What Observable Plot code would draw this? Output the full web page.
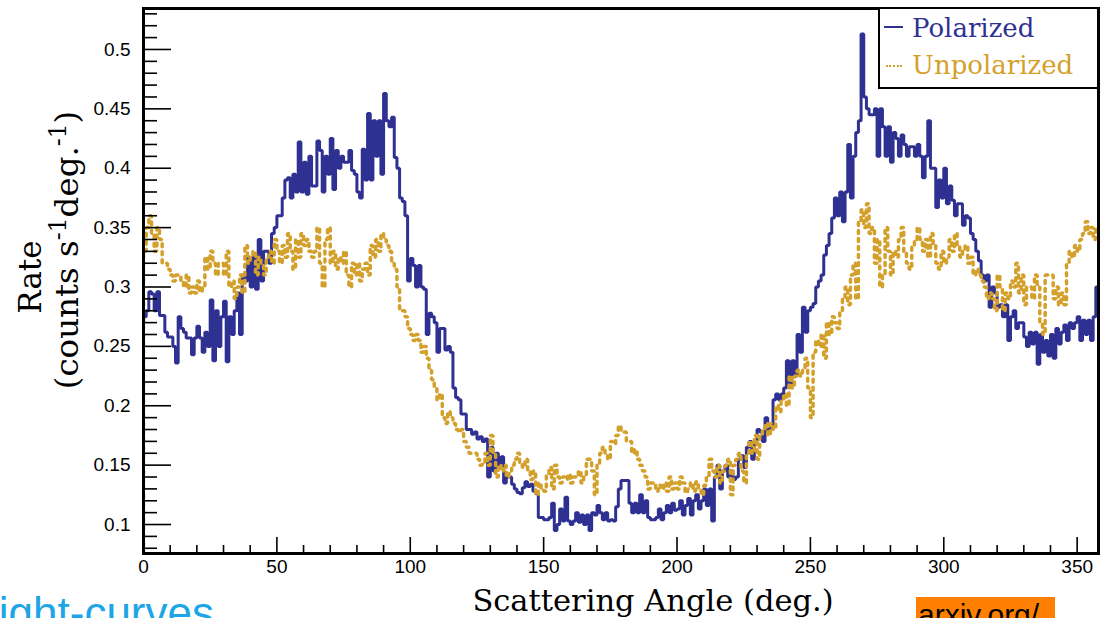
<!DOCTYPE html>
<html><head><meta charset="utf-8">
<script src="https://cdn.jsdelivr.net/npm/d3@7"></script>
<script src="https://cdn.jsdelivr.net/npm/@observablehq/plot@0.6"></script>
<style>
body{margin:0;background:#fff}
#wrap{position:relative;width:1105px;height:618px;overflow:hidden;background:#fff}
#wrap svg{position:absolute;left:0;top:0}
.leg{position:absolute;left:878px;top:7px;width:221px;height:82px;border:2.5px solid #000;background:#fff;box-sizing:border-box}
.legtxt{position:absolute;font-family:"DejaVu Serif";font-size:26px;line-height:26px;white-space:nowrap}
.sw{position:absolute;height:0}
.ovl{position:absolute;white-space:nowrap;font-family:"Liberation Sans",Arial,sans-serif}
.ytitle{position:absolute;white-space:nowrap;font-family:"DejaVu Serif";font-size:31px;line-height:31px;color:#000;transform:translate(-50%,-50%) rotate(-90deg)}
.ytitle sup{font-size:0.72em;vertical-align:0;position:relative;top:-0.5em}
</style></head><body><div id="wrap"></div>
<script>
// Histogram rates, 1-degree bins starting at 0 deg
const polarized = [
0.275,0.28,0.296,0.294,0.28,0.296,0.276,0.276,0.262,0.258,
0.258,0.25,0.236,0.275,0.265,0.262,0.257,0.257,0.243,0.257,
0.267,0.257,0.245,0.262,0.25,0.289,0.238,0.28,0.25,0.275,
0.288,0.237,0.275,0.26,0.28,0.295,0.26,0.31,0.305,0.325,
0.3,0.325,0.298,0.34,0.305,0.33,0.33,0.32,0.345,0.35,
0.36,0.36,0.375,0.39,0.392,0.375,0.395,0.38,0.422,0.38,
0.405,0.378,0.41,0.385,0.385,0.423,0.415,0.38,0.41,0.395,
0.425,0.382,0.415,0.4,0.41,0.405,0.405,0.415,0.398,0.395,
0.38,0.375,0.416,0.39,0.446,0.39,0.44,0.41,0.44,0.395,
0.463,0.44,0.435,0.443,0.409,0.40,0.375,0.372,0.36,0.305,
0.324,0.318,0.30,0.318,0.30,0.298,0.26,0.278,0.275,0.27,
0.245,0.265,0.265,0.247,0.25,0.245,0.215,0.207,0.205,0.193,
0.193,0.18,0.18,0.176,0.178,0.172,0.174,0.17,0.172,0.14,
0.165,0.145,0.16,0.15,0.157,0.135,0.14,0.14,0.134,0.13,
0.127,0.126,0.131,0.136,0.132,0.134,0.128,0.126,0.106,0.106,
0.104,0.104,0.106,0.118,0.095,0.1,0.113,0.103,0.123,0.103,
0.1,0.103,0.11,0.102,0.108,0.1,0.108,0.095,0.11,0.108,
0.116,0.11,0.104,0.11,0.103,0.104,0.103,0.115,0.13,0.137,
0.137,0.137,0.118,0.11,0.118,0.11,0.125,0.11,0.12,0.106,
0.104,0.104,0.106,0.113,0.104,0.11,0.116,0.11,0.118,0.112,
0.113,0.12,0.108,0.116,0.122,0.108,0.12,0.125,0.113,0.12,
0.13,0.116,0.13,0.103,0.14,0.15,0.13,0.145,0.15,0.14,
0.145,0.138,0.14,0.155,0.158,0.148,0.165,0.17,0.155,0.17,
0.18,0.178,0.17,0.19,0.178,0.182,0.205,0.21,0.205,0.21,
0.215,0.238,0.218,0.238,0.225,0.26,0.245,0.283,0.262,0.28,
0.283,0.286,0.3,0.305,0.31,0.327,0.335,0.345,0.358,0.375,
0.36,0.38,0.355,0.38,0.42,0.375,0.41,0.43,0.44,0.513,
0.46,0.45,0.445,0.445,0.45,0.41,0.45,0.435,0.41,0.435,
0.405,0.43,0.425,0.41,0.428,0.42,0.41,0.418,0.418,0.41,
0.42,0.41,0.392,0.41,0.44,0.40,0.40,0.367,0.39,0.375,
0.40,0.37,0.385,0.373,0.36,0.37,0.37,0.352,0.36,0.358,
0.345,0.34,0.33,0.322,0.31,0.305,0.31,0.283,0.3,0.295,
0.283,0.285,0.275,0.285,0.255,0.275,0.28,0.265,0.27,0.27,
0.258,0.25,0.262,0.252,0.262,0.235,0.26,0.245,0.255,0.242,
0.26,0.24,0.265,0.252,0.262,0.268,0.255,0.27,0.265,0.27,
0.275,0.255,0.272,0.26,0.272,0.255,0.275,0.3
];
const unpolarized = [
0.33,0.35,0.36,0.345,0.33,0.35,0.34,0.32,0.32,0.315,
0.31,0.305,0.31,0.31,0.305,0.3,0.31,0.295,0.30,0.295,
0.305,0.296,0.30,0.325,0.315,0.33,0.32,0.31,0.32,0.32,
0.31,0.33,0.3,0.305,0.29,0.3,0.31,0.295,0.335,0.32,
0.325,0.33,0.31,0.325,0.32,0.31,0.325,0.33,0.32,0.34,
0.33,0.32,0.335,0.325,0.345,0.33,0.315,0.34,0.325,0.345,
0.335,0.34,0.33,0.325,0.33,0.35,0.32,0.3,0.34,0.35,
0.32,0.33,0.315,0.325,0.32,0.33,0.31,0.30,0.32,0.31,
0.32,0.305,0.315,0.32,0.31,0.335,0.325,0.34,0.33,0.345,
0.34,0.335,0.33,0.32,0.315,0.30,0.28,0.28,0.275,0.265,
0.26,0.255,0.26,0.255,0.245,0.25,0.24,0.23,0.222,0.215,
0.205,0.21,0.19,0.185,0.195,0.19,0.185,0.18,0.178,0.18,
0.17,0.165,0.16,0.16,0.16,0.155,0.15,0.152,0.16,0.15,
0.175,0.16,0.14,0.15,0.145,0.15,0.14,0.145,0.15,0.155,
0.16,0.152,0.148,0.155,0.145,0.138,0.145,0.125,0.135,0.13,
0.128,0.142,0.148,0.13,0.15,0.14,0.135,0.14,0.138,0.142,
0.135,0.14,0.14,0.145,0.135,0.14,0.155,0.155,0.145,0.125,
0.15,0.16,0.165,0.16,0.155,0.17,0.168,0.175,0.183,0.178,
0.178,0.17,0.17,0.16,0.163,0.155,0.15,0.145,0.14,0.13,
0.135,0.135,0.128,0.133,0.13,0.135,0.128,0.14,0.13,0.135,
0.13,0.14,0.135,0.127,0.13,0.135,0.128,0.136,0.13,0.125,
0.133,0.14,0.155,0.145,0.14,0.15,0.135,0.145,0.15,0.155,
0.125,0.15,0.155,0.16,0.145,0.135,0.16,0.17,0.16,0.175,
0.155,0.175,0.18,0.185,0.175,0.185,0.18,0.2,0.195,0.205,
0.21,0.2,0.225,0.215,0.225,0.23,0.225,0.23,0.24,0.215,
0.19,0.245,0.255,0.25,0.26,0.24,0.27,0.26,0.275,0.27,
0.265,0.28,0.29,0.3,0.285,0.31,0.32,0.29,0.355,0.365,
0.35,0.37,0.345,0.35,0.32,0.34,0.3,0.31,0.35,0.33,
0.31,0.33,0.325,0.34,0.35,0.33,0.32,0.315,0.335,0.34,
0.35,0.34,0.33,0.34,0.325,0.345,0.335,0.32,0.315,0.33,
0.32,0.325,0.34,0.33,0.345,0.335,0.325,0.33,0.335,0.32,
0.325,0.31,0.315,0.31,0.305,0.3,0.29,0.295,0.29,0.28,
0.31,0.3,0.28,0.295,0.29,0.305,0.3,0.32,0.295,0.31,
0.285,0.3,0.3,0.29,0.31,0.3,0.27,0.26,0.31,0.31,
0.31,0.29,0.3,0.285,0.295,0.285,0.32,0.33,0.325,0.335,
0.33,0.34,0.345,0.355,0.345,0.35,0.34,0.35
];
const seriesNames = ["Polarized", "Unpolarized"];
const seriesColors = ["#2e3192", "#d4a02c"];
const xTicksMajor = [0, 50, 100, 150, 200, 250, 300, 350];
const xTicksMinor = [10,20,30,40,60,70,80,90,110,120,130,140,160,170,180,190,210,220,230,240,260,270,280,290,310,320,330,340];
const yTicksMajor = [0.1, 0.15, 0.2, 0.25, 0.3, 0.35, 0.4, 0.45, 0.5];
const yTicksMinor = [0.08,0.09,0.11,0.12,0.13,0.14,0.16,0.17,0.18,0.19,0.21,0.22,0.23,0.24,0.26,0.27,0.28,0.29,0.31,0.32,0.33,0.34,0.36,0.37,0.38,0.39,0.41,0.42,0.43,0.44,0.46,0.47,0.48,0.49,0.51,0.52,0.53];
const xTitle = "Scattering Angle (deg.)";
const yTitle1 = "Rate";
const yTitle2Parts = ["(counts s", "-1", "deg.", "-1", ")"];

const xDomain = [0, 358];
const yDomain = [0.0756, 0.5345];

const W = 1105, H = 618, mL = 143, mR = 7, mT = 8, mB = 65;
const pw = W - mL - mR, ph = H - mT - mB;

function steps(vals) {
  const pts = [{x: 0, y: yDomain[0]}];
  vals.forEach((v, i) => pts.push({x: i, y: v}));
  pts.push({x: vals.length, y: vals[vals.length - 1]});
  return pts;
}

const chart = Plot.plot({
  width: W, height: H,
  marginLeft: mL, marginRight: mR, marginTop: mT, marginBottom: mB,
  x: {domain: xDomain},
  y: {domain: yDomain},
  style: {fontFamily: "Liberation Sans, Arial, sans-serif", background: "transparent", color: "#000"},
  marks: [
    Plot.line(steps(polarized), {x: "x", y: "y", curve: "step-after", stroke: seriesColors[0], strokeWidth: 3, strokeLinejoin: "miter", clip: true}),
    Plot.line(steps(unpolarized), {x: "x", y: "y", curve: "step-after", stroke: seriesColors[1], strokeWidth: 3.5, strokeDasharray: "3,5", strokeLinejoin: "miter", clip: true}),
    Plot.tickY(yTicksMajor, {y: d => d, stroke: "#000", strokeWidth: 1.6, insetRight: pw - 28}),
    Plot.tickY(yTicksMinor, {y: d => d, stroke: "#000", strokeWidth: 1.6, insetRight: pw - 14}),
    Plot.tickX(xTicksMajor, {x: d => d, stroke: "#000", strokeWidth: 1.6, insetTop: ph - 16}),
    Plot.tickX(xTicksMinor, {x: d => d, stroke: "#000", strokeWidth: 1.6, insetTop: ph - 8}),
    Plot.axisY(yTicksMajor, {tickSize: 0, tickPadding: 13, fontSize: 19, label: null, tickFormat: d => String(d)}),
    Plot.axisX(xTicksMajor, {tickSize: 0, tickPadding: 6, fontSize: 19, label: null, tickFormat: d => String(d)}),
    Plot.text([xTitle], {frameAnchor: "bottom", textAnchor: "middle", lineAnchor: "middle", dx: 32, dy: 48, fontSize: 30.5, fontFamily: "DejaVu Serif", fill: "#000"}),
    Plot.frame({stroke: "#000", strokeWidth: 3})
  ]
});

const wrap = document.getElementById("wrap");
wrap.appendChild(chart);

// Y axis title (two lines, rotated)
const yt1 = document.createElement("div");
yt1.className = "ytitle";
yt1.textContent = yTitle1;
yt1.style.left = "30px";
yt1.style.top = "277px";
wrap.appendChild(yt1);
const yt2 = document.createElement("div");
yt2.className = "ytitle";
yt2.style.fontSize = "32.5px";
yTitle2Parts.forEach((p, i) => {
  const el = document.createElement(i % 2 === 1 ? "sup" : "span");
  el.textContent = p;
  yt2.appendChild(el);
});
yt2.style.left = "69px";
yt2.style.top = "250px";
wrap.appendChild(yt2);

// Legend
const leg = document.createElement("div");
leg.className = "leg";
seriesNames.forEach((name, i) => {
  const sw = document.createElement("div");
  sw.className = "sw";
  sw.style.left = (i === 0 ? 4 : 6) + "px";
  sw.style.width = (i === 0 ? 19 : 16) + "px";
  sw.style.top = (i === 0 ? 17 : 56) + "px";
  sw.style.borderTop = (i === 0 ? "2.5px solid " : "2.5px dotted ") + seriesColors[i];
  leg.appendChild(sw);
  const t = document.createElement("div");
  t.className = "legtxt";
  t.textContent = name;
  t.style.color = seriesColors[i];
  t.style.left = "32px";
  t.style.top = (i === 0 ? 6 : 43) + "px";
  leg.appendChild(t);
});
wrap.appendChild(leg);

// Overlay fragments at the bottom edge of the image
const o1 = document.createElement("div");
o1.className = "ovl";
o1.textContent = "light-curves";
o1.style.cssText += "right:" + (W - 214) + "px;top:591px;font-size:44px;line-height:44px;color:#1ea5e6;";
wrap.appendChild(o1);
const o2 = document.createElement("div");
o2.className = "ovl";
o2.textContent = "arxiv.org/";
o2.style.cssText += "left:916px;top:597px;width:139px;height:30px;background:#ff8000;color:#000;font-size:30px;line-height:30px;padding-left:2px;box-sizing:border-box;padding-top:3px;";
wrap.appendChild(o2);
</script>
</body></html>
